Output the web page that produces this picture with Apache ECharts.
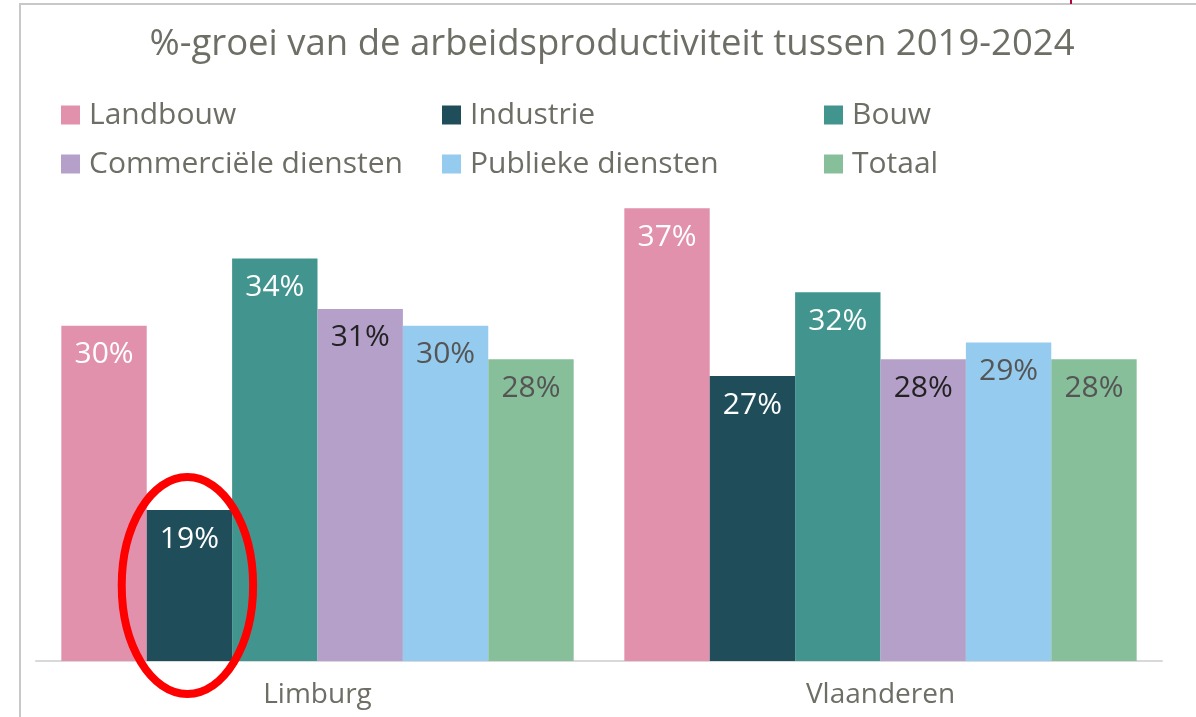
<!DOCTYPE html>
<html>
<head>
<meta charset="utf-8">
<script src="https://cdn.jsdelivr.net/npm/echarts@6/dist/echarts.min.js"></script>
<style>
  html, body { margin: 0; padding: 0; background: #fff; }
  #chart { width: 1196px; height: 717px; }
  .frame {
    position: absolute; left: 19px; top: 3px; right: 0; bottom: 0;
    border-top: 2px solid #c8c8c8; border-left: 2px solid #c8c8c8;
    pointer-events: none;
  }
  .tick { position: absolute; left: 1070px; top: 0; width: 2px; height: 4px; background: #b0063a; }
</style>
</head>
<body>
<div id="chart"></div>
<div class="frame"></div>
<div class="tick"></div>
<script>
// data
const regions = ['Limburg', 'Vlaanderen'];
const sectors = ['Landbouw', 'Industrie', 'Bouw', 'Commerciële diensten', 'Publieke diensten', 'Totaal'];
const landbouw = [30, 37];
const industrie = [19, 27];
const bouw = [34, 32];
const commercieel = [31, 28];
const publiek = [30, 29];
const totaal = [28, 28];

const values = [landbouw, industrie, bouw, commercieel, publiek, totaal];
const colors = ['#E191AC', '#1F4E5A', '#42958E', '#B4A0C9', '#94CBEE', '#86BF9A'];
const labelColors = ['#ffffff', '#ffffff', '#ffffff', '#222222', '#555555', '#555555'];

const font = '"Open Sans", sans-serif';
const textGray = '#6e6e66';

const chart = echarts.init(document.getElementById('chart'));

// legend: 3 columns x 2 rows
const legendCols = [61, 442, 824];
const legendRows = [99, 148];
const legends = sectors.map((name, i) => ({
  data: [name],
  left: legendCols[i % 3],
  top: legendRows[Math.floor(i / 3)],
  padding: 0,
  icon: 'rect',
  itemWidth: 19,
  itemHeight: 19,
  itemGap: 0,
  selectedMode: false,
  textStyle: {
    fontFamily: font,
    fontSize: 30,
    lineHeight: 32,
    color: textGray,
    padding: [0, 0, 0, 4]
  }
}));

const series = sectors.map((name, i) => ({
  name: name,
  type: 'bar',
  data: values[i],
  barGap: 0,
  barCategoryGap: '9%',
  itemStyle: { color: colors[i] },
  label: {
    show: true,
    position: 'insideTop',
    distance: 14,
    formatter: '{c}%',
    fontFamily: font,
    fontSize: 30,
    color: labelColors[i]
  }
}));

chart.setOption({
  animation: false,
  legend: legends,
  grid: { left: 36, right: 34, top: 158, bottom: 56 },
  xAxis: {
    type: 'category',
    data: regions,
    axisLine: { lineStyle: { color: '#d9d9d9', width: 2 } },
    axisTick: { show: false },
    axisLabel: { fontFamily: font, fontSize: 28, color: textGray, margin: 20 }
  },
  yAxis: {
    type: 'value',
    min: 10,
    max: 40,
    show: false,
    splitLine: { show: false }
  },
  series: series
});

// title + red ellipse around the Limburg industrie bar
const lay = chart.getModel().getSeriesByIndex(1).getData().getItemLayout(0);
const barTop = Math.min(lay.y, lay.y + lay.height);
const barBottom = chart.convertToPixel({ yAxisIndex: 0 }, 10);
const cx = lay.x + lay.width / 2;
const cy = (barTop + barBottom) / 2;
chart.setOption({
  graphic: [
    {
      type: 'text',
      x: 612,
      y: 45,
      style: {
        text: '%-groei van de arbeidsproductiviteit tussen 2019-2024',
        fontFamily: font,
        fontSize: 36.5,
        fill: textGray,
        align: 'center',
        verticalAlign: 'middle'
      }
    },
    {
      type: 'ellipse',
      shape: { cx: cx - 2, cy: cy, rx: Math.abs(lay.width) / 2 + 23, ry: (barBottom - barTop) / 2 + 33 },
      style: { fill: 'none', stroke: '#ff0000', lineWidth: 8 },
      z: 100
    }
  ]
});
</script>
</body>
</html>
